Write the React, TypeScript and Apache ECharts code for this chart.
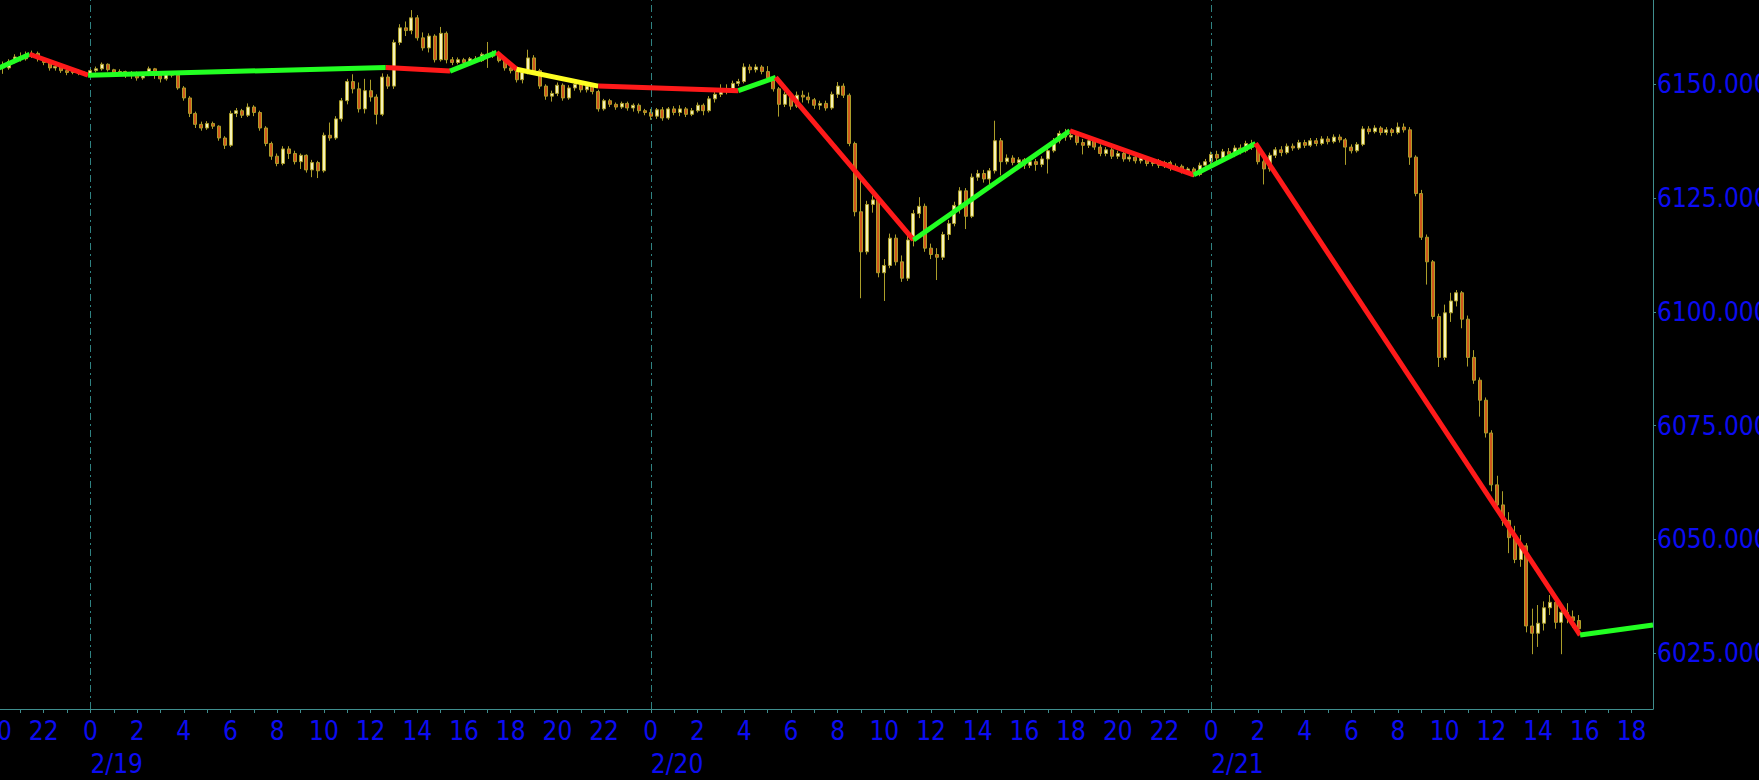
import React, { useEffect, useRef } from "react";
import * as echarts from "echarts";

// Time unit: hours from 2/19 00:00. Candles are 15-minute bars [open, close, low, high].
const feb18Start = -4; // 2/18 20:00
const candlesFeb18 = [
  [6153.0, 6154.0, 6152.5, 6154.5], [6154.0, 6153.6, 6152.3, 6155.0], [6153.6, 6155.0, 6153.2, 6155.5], [6155.0, 6156.0, 6154.6, 6156.6],
  [6156.0, 6155.6, 6155.0, 6157.0], [6155.6, 6156.4, 6155.2, 6157.2], [6156.4, 6156.8, 6155.8, 6157.4], [6156.8, 6155.6, 6155.0, 6157.2],
  [6155.6, 6154.8, 6154.2, 6156.0], [6154.8, 6153.6, 6153.0, 6155.2], [6153.6, 6153.9, 6153.0, 6154.4], [6153.9, 6153.0, 6152.5, 6154.2],
  [6153.0, 6152.6, 6152.0, 6153.4], [6152.6, 6153.0, 6152.2, 6153.4], [6153.0, 6152.4, 6152.0, 6153.3], [6152.4, 6152.2, 6151.8, 6152.8],
];

const feb19Start = 0;
const candlesFeb19 = [
  [6152.2, 6153.0, 6151.8, 6153.4], [6153.0, 6153.4, 6152.6, 6153.9], [6153.4, 6154.4, 6153.0, 6154.8], [6154.4, 6153.2, 6152.8, 6154.6],
  [6153.2, 6152.6, 6151.6, 6153.4], [6152.6, 6152.8, 6152.0, 6153.3], [6152.8, 6152.0, 6151.4, 6153.0], [6152.0, 6152.6, 6151.2, 6152.9],
  [6152.6, 6151.4, 6150.8, 6152.8], [6151.4, 6152.2, 6151.0, 6152.5], [6152.2, 6153.4, 6151.8, 6153.9], [6153.4, 6152.0, 6151.2, 6153.6],
  [6152.0, 6151.2, 6150.4, 6152.4], [6151.2, 6152.4, 6150.8, 6152.8], [6152.4, 6152.0, 6151.5, 6152.8], [6152.0, 6149.2, 6148.8, 6152.3],
  [6149.2, 6147.0, 6146.4, 6149.6], [6147.0, 6143.6, 6142.8, 6147.4], [6143.6, 6141.2, 6140.4, 6144.0], [6141.2, 6140.4, 6139.8, 6141.8],
  [6140.4, 6141.4, 6140.0, 6141.9], [6141.4, 6140.8, 6140.2, 6141.8], [6140.8, 6138.2, 6137.6, 6141.0], [6138.2, 6136.6, 6135.8, 6138.6],
  [6136.6, 6143.6, 6136.2, 6144.2], [6143.6, 6144.2, 6142.8, 6144.8], [6144.2, 6143.2, 6142.6, 6144.6], [6143.2, 6145.0, 6142.8, 6145.8],
  [6145.0, 6143.8, 6143.0, 6145.4], [6143.8, 6140.4, 6139.8, 6144.2], [6140.4, 6137.0, 6136.4, 6140.8], [6137.0, 6134.2, 6133.4, 6137.4],
  [6134.2, 6132.6, 6132.0, 6134.8], [6132.6, 6135.8, 6132.2, 6136.4], [6135.8, 6134.8, 6133.6, 6136.4], [6134.8, 6133.0, 6132.4, 6135.4],
  [6133.0, 6134.4, 6131.4, 6134.8], [6134.4, 6131.2, 6130.6, 6134.6], [6131.2, 6132.8, 6129.6, 6133.4], [6132.8, 6131.0, 6129.4, 6133.2],
  [6131.0, 6138.8, 6130.6, 6139.4], [6138.8, 6138.2, 6137.6, 6141.6], [6138.2, 6142.4, 6137.8, 6143.0], [6142.4, 6146.4, 6141.8, 6147.0],
  [6146.4, 6150.6, 6145.6, 6151.2], [6150.6, 6149.0, 6148.0, 6152.2], [6149.0, 6144.6, 6143.8, 6150.4], [6144.6, 6148.6, 6143.6, 6151.2],
  [6148.6, 6147.2, 6146.2, 6151.0], [6147.2, 6143.4, 6141.2, 6147.8], [6143.4, 6151.6, 6143.0, 6152.4], [6151.6, 6149.6, 6149.0, 6152.2],
  [6149.6, 6159.2, 6149.0, 6159.8], [6159.2, 6162.4, 6158.6, 6163.2], [6162.4, 6161.8, 6160.6, 6163.8], [6161.8, 6164.6, 6161.0, 6166.3],
  [6164.6, 6160.2, 6159.6, 6165.2], [6160.2, 6158.0, 6157.4, 6161.4], [6158.0, 6160.6, 6157.0, 6161.2], [6160.6, 6155.4, 6154.8, 6161.0],
  [6155.4, 6161.2, 6155.0, 6162.6], [6161.2, 6155.4, 6154.6, 6161.6], [6155.4, 6154.8, 6154.2, 6156.0], [6154.8, 6155.4, 6154.4, 6155.9],
  [6155.4, 6154.8, 6154.2, 6155.8], [6154.8, 6155.6, 6154.4, 6156.0], [6155.6, 6155.2, 6154.8, 6156.2], [6155.2, 6156.6, 6154.9, 6157.0],
  [6156.6, 6156.2, 6153.6, 6159.3], [6156.2, 6156.8, 6155.8, 6157.4], [6156.8, 6155.2, 6154.8, 6157.2], [6155.2, 6153.6, 6153.0, 6155.6],
  [6153.6, 6153.0, 6152.4, 6154.2], [6153.0, 6151.0, 6150.4, 6153.4], [6151.0, 6152.6, 6150.2, 6153.2], [6152.6, 6155.8, 6152.2, 6157.6],
  [6155.8, 6153.0, 6152.4, 6156.4], [6153.0, 6149.6, 6149.0, 6153.4], [6149.6, 6147.4, 6146.6, 6150.0], [6147.4, 6148.0, 6146.2, 6148.6],
  [6148.0, 6149.8, 6147.4, 6150.4], [6149.8, 6147.0, 6146.4, 6150.2], [6147.0, 6149.2, 6146.6, 6149.8], [6149.2, 6150.0, 6148.6, 6150.6],
  [6150.0, 6148.8, 6148.2, 6150.4], [6148.8, 6149.6, 6148.2, 6150.2], [6149.6, 6148.4, 6147.8, 6150.0], [6148.4, 6144.6, 6144.0, 6148.8],
  [6144.6, 6146.4, 6144.2, 6146.8], [6146.4, 6145.6, 6145.0, 6146.8], [6145.6, 6145.0, 6144.4, 6146.0], [6145.0, 6145.8, 6144.6, 6146.2],
  [6145.8, 6144.8, 6144.2, 6146.2], [6144.8, 6145.4, 6144.0, 6145.8], [6145.4, 6144.2, 6143.6, 6145.8], [6144.2, 6143.8, 6143.2, 6144.6],
];

const feb20Start = 24;
const candlesFeb20 = [
  [6143.8, 6143.0, 6142.2, 6144.6], [6143.0, 6144.4, 6142.4, 6144.8], [6144.4, 6142.6, 6142.0, 6145.0], [6142.6, 6144.6, 6142.2, 6145.0],
  [6144.6, 6143.8, 6143.2, 6145.2], [6143.8, 6144.6, 6143.0, 6145.4], [6144.6, 6143.4, 6142.8, 6145.0], [6143.4, 6144.2, 6143.0, 6144.8],
  [6144.2, 6145.4, 6143.8, 6146.0], [6145.4, 6144.2, 6143.2, 6145.8], [6144.2, 6146.8, 6143.8, 6147.4], [6146.8, 6147.8, 6146.0, 6148.4],
  [6147.8, 6149.0, 6147.2, 6150.0], [6149.0, 6148.6, 6147.8, 6150.0], [6148.6, 6150.2, 6148.2, 6150.8], [6150.2, 6150.6, 6149.6, 6151.2],
  [6150.6, 6153.8, 6150.2, 6154.6], [6153.8, 6153.2, 6152.4, 6154.4], [6153.2, 6153.8, 6152.6, 6154.4], [6153.8, 6152.8, 6152.2, 6154.2],
  [6152.8, 6151.4, 6150.6, 6154.0], [6151.4, 6149.0, 6148.4, 6151.8], [6149.0, 6145.6, 6142.9, 6149.4], [6145.6, 6147.8, 6145.0, 6148.4],
  [6147.8, 6145.2, 6144.4, 6148.2], [6145.2, 6147.6, 6144.8, 6148.4], [6147.6, 6147.2, 6146.0, 6148.6], [6147.2, 6146.6, 6145.8, 6148.2],
  [6146.6, 6145.4, 6144.6, 6147.0], [6145.4, 6145.8, 6144.4, 6146.4], [6145.8, 6144.8, 6144.2, 6146.4], [6144.8, 6147.8, 6144.4, 6148.4],
  [6147.8, 6149.6, 6147.0, 6150.5], [6149.6, 6147.6, 6147.0, 6150.2], [6147.6, 6137.0, 6136.4, 6148.0], [6137.0, 6122.0, 6121.0, 6137.4],
  [6122.0, 6113.2, 6103.0, 6129.0], [6113.2, 6123.6, 6112.6, 6124.4], [6123.6, 6124.6, 6121.8, 6125.6], [6124.6, 6108.6, 6107.6, 6125.0],
  [6108.6, 6110.2, 6102.4, 6111.6], [6110.2, 6116.2, 6109.6, 6117.2], [6116.2, 6111.0, 6110.2, 6117.0], [6111.0, 6107.4, 6106.6, 6112.4],
  [6107.4, 6115.8, 6106.8, 6116.8], [6115.8, 6121.6, 6114.4, 6122.4], [6121.6, 6123.2, 6120.6, 6125.2], [6123.2, 6114.0, 6113.2, 6123.8],
  [6114.0, 6112.6, 6111.6, 6115.0], [6112.6, 6112.0, 6107.0, 6114.0], [6112.0, 6117.0, 6111.4, 6117.6], [6117.0, 6119.4, 6115.8, 6120.2],
  [6119.4, 6123.4, 6118.8, 6124.2], [6123.4, 6126.6, 6121.6, 6127.4], [6126.6, 6121.0, 6118.2, 6127.2], [6121.0, 6129.6, 6120.6, 6130.4],
  [6129.6, 6130.4, 6128.8, 6131.2], [6130.4, 6129.2, 6128.4, 6131.2], [6129.2, 6131.0, 6128.0, 6131.6], [6131.0, 6137.6, 6130.4, 6142.0],
  [6137.6, 6133.0, 6130.0, 6138.2], [6133.0, 6133.8, 6132.4, 6134.6], [6133.8, 6132.8, 6132.2, 6134.4], [6132.8, 6133.4, 6132.0, 6134.0],
  [6133.4, 6132.2, 6131.4, 6133.8], [6132.2, 6133.0, 6131.6, 6133.6], [6133.0, 6132.4, 6131.0, 6133.6], [6132.4, 6133.6, 6131.8, 6134.2],
  [6133.6, 6135.4, 6130.4, 6136.0], [6135.4, 6137.6, 6135.0, 6138.2], [6137.6, 6139.2, 6137.0, 6139.8], [6139.2, 6138.4, 6137.6, 6140.2],
  [6138.4, 6138.8, 6137.8, 6139.6], [6138.8, 6137.2, 6136.6, 6139.4], [6137.2, 6136.6, 6134.6, 6138.0], [6136.6, 6137.6, 6136.0, 6138.4],
  [6137.6, 6136.2, 6135.6, 6138.0], [6136.2, 6134.8, 6134.2, 6136.8], [6134.8, 6135.6, 6134.2, 6136.2], [6135.6, 6134.2, 6133.6, 6136.0],
  [6134.2, 6134.8, 6133.6, 6135.4], [6134.8, 6133.6, 6133.0, 6135.2], [6133.6, 6134.0, 6133.0, 6134.6], [6134.0, 6133.2, 6132.6, 6134.6],
  [6133.2, 6133.8, 6132.6, 6134.2], [6133.8, 6132.6, 6132.0, 6134.2], [6132.6, 6133.2, 6132.0, 6133.8], [6133.2, 6132.2, 6131.6, 6133.6],
  [6132.2, 6132.8, 6131.6, 6133.2], [6132.8, 6131.6, 6131.0, 6133.2], [6131.6, 6132.0, 6131.0, 6132.6], [6132.0, 6131.0, 6130.4, 6132.4],
  [6131.0, 6131.4, 6130.2, 6131.8], [6131.4, 6130.2, 6129.6, 6131.8], [6130.2, 6132.2, 6129.8, 6132.8], [6132.2, 6133.0, 6131.6, 6133.6],
];

const feb21Start = 48;
const candlesFeb21 = [
  [6133.0, 6134.6, 6132.4, 6135.2], [6134.6, 6133.8, 6133.0, 6135.4], [6133.8, 6135.2, 6133.2, 6135.8], [6135.2, 6134.6, 6133.8, 6136.0],
  [6134.6, 6136.0, 6134.0, 6136.6], [6136.0, 6135.4, 6134.6, 6136.8], [6135.4, 6137.0, 6135.0, 6137.6], [6137.0, 6136.2, 6135.6, 6137.8],
  [6136.2, 6133.0, 6132.4, 6136.8], [6133.0, 6131.4, 6128.0, 6134.0], [6131.4, 6134.4, 6130.8, 6135.0], [6134.4, 6135.6, 6133.8, 6136.2],
  [6135.6, 6135.0, 6134.2, 6136.4], [6135.0, 6136.4, 6134.6, 6137.0], [6136.4, 6136.0, 6135.4, 6137.0], [6136.0, 6137.2, 6135.6, 6137.8],
  [6137.2, 6136.6, 6136.0, 6137.8], [6136.6, 6137.6, 6136.2, 6138.2], [6137.6, 6137.0, 6136.4, 6138.2], [6137.0, 6138.0, 6136.6, 6138.6],
  [6138.0, 6137.4, 6136.8, 6138.6], [6137.4, 6138.4, 6137.0, 6139.0], [6138.4, 6137.8, 6137.2, 6139.0], [6137.8, 6136.2, 6132.3, 6138.2],
  [6136.2, 6135.4, 6134.8, 6136.8], [6135.4, 6136.8, 6135.0, 6137.3], [6136.8, 6140.2, 6136.4, 6140.8], [6140.2, 6139.6, 6139.0, 6140.8],
  [6139.6, 6140.4, 6139.2, 6141.0], [6140.4, 6139.4, 6138.8, 6140.8], [6139.4, 6140.0, 6138.8, 6140.6], [6140.0, 6139.4, 6138.6, 6140.4],
  [6139.4, 6140.6, 6139.0, 6141.6], [6140.6, 6140.0, 6139.4, 6141.4], [6140.0, 6134.0, 6132.3, 6140.6], [6134.0, 6126.0, 6125.4, 6134.4],
  [6126.0, 6116.4, 6115.8, 6126.8], [6116.4, 6111.0, 6106.0, 6117.0], [6111.0, 6099.0, 6098.4, 6111.4], [6099.0, 6090.0, 6087.9, 6099.6],
  [6090.0, 6099.8, 6089.4, 6101.6], [6099.8, 6102.4, 6097.8, 6104.2], [6102.4, 6104.2, 6101.2, 6104.8], [6104.2, 6098.4, 6096.4, 6104.6],
  [6098.4, 6090.0, 6088.0, 6099.2], [6090.0, 6085.0, 6084.2, 6091.6], [6085.0, 6080.6, 6077.0, 6085.6], [6080.6, 6073.4, 6072.4, 6081.2],
  [6073.4, 6062.0, 6060.6, 6074.0], [6062.0, 6057.6, 6055.8, 6064.0], [6057.6, 6054.2, 6053.0, 6060.6], [6054.2, 6050.4, 6047.0, 6056.0],
  [6050.4, 6045.6, 6044.8, 6053.0], [6045.6, 6048.6, 6044.0, 6051.0], [6048.6, 6031.0, 6029.6, 6049.2], [6031.0, 6029.4, 6024.8, 6034.8],
  [6029.4, 6031.6, 6026.4, 6035.6], [6031.6, 6035.0, 6030.0, 6036.4], [6035.0, 6036.2, 6033.4, 6037.8], [6036.2, 6031.8, 6030.4, 6037.0],
  [6031.8, 6034.0, 6024.8, 6035.6], [6034.0, 6033.0, 6031.6, 6036.0], [6033.0, 6032.2, 6030.6, 6034.4], [6032.2, 6030.4, 6029.4, 6033.4],
];

// Zigzag overlay: vertex times (hours), prices, and colour of each segment that starts at a vertex.
const zigzagTimes = [-4.0, -2.6, -0.1, 12.65, 15.4, 17.4, 18.25, 21.75, 27.75, 29.35, 35.25, 41.95, 47.25, 49.9, 63.8, 66.92];
const zigzagPrices = [6153.4, 6156.6, 6152.0, 6153.7, 6152.9, 6157.0, 6153.3, 6149.6, 6148.6, 6151.5, 6115.8, 6139.8, 6130.1, 6137.0, 6029.0, 6031.2];
const zigzagColors = ["#22ff22", "#ff1a1a", "#22ff22", "#ff1a1a", "#22ff22", "#ff1a1a", "#ffff22", "#ff1a1a", "#22ff22", "#ff1a1a", "#22ff22", "#ff1a1a", "#22ff22", "#ff1a1a", "#22ff22"];

// Axis ticks / labels
const xMin = -4;
const xMax = 66.92;
const hourLabelValues = [-4, -2, 0, 2, 4, 6, 8, 10, 12, 14, 16, 18, 20, 22, 24, 26, 28, 30, 32, 34, 36, 38, 40, 42, 44, 46, 48, 50, 52, 54, 56, 58, 60, 62, 64, 66];
const dayStarts = [0, 24, 48];
const dayLabels = ["2/19", "2/20", "2/21"];
const priceTicks = [6025, 6050, 6075, 6100, 6125, 6150];
const yMin = 6012.76;
const yMax = 6168.52;

const AXIS_COLOR = "#3f8e8e";
const LABEL_COLOR = "#0c0cf2";
const FONT = "'DejaVu Sans Condensed', 'Liberation Sans', sans-serif";

function toSeries(start: number, rows: number[][]) {
  return rows.map((r, i) => [start + i * 0.25, r[0], r[1], r[2], r[3]]);
}

export default function App() {
  const ref = useRef<HTMLDivElement>(null);
  useEffect(() => {
    if (!ref.current) return;
    const chart = echarts.init(ref.current, undefined, { renderer: "svg" });
    const candleData = [
      ...toSeries(feb18Start, candlesFeb18),
      ...toSeries(feb19Start, candlesFeb19),
      ...toSeries(feb20Start, candlesFeb20),
      ...toSeries(feb21Start, candlesFeb21),
    ];
    const hourTicks: number[] = [];
    for (let h = -4; h <= 66; h++) hourTicks.push(h);

    const zigSeries = zigzagColors.map((c, i) => ({
      type: "line",
      data: [
        [zigzagTimes[i], zigzagPrices[i]],
        [zigzagTimes[i + 1], zigzagPrices[i + 1]],
      ],
      showSymbol: false,
      symbol: "none",
      lineStyle: { color: c, width: 5 },
      z: 5,
      silent: true,
      clip: true,
    }));

    chart.setOption({
      animation: false,
      backgroundColor: "#000000",
      grid: { left: -3, right: 106, top: 0, bottom: 71, containLabel: false, outerBoundsMode: "none" },
      xAxis: [
        {
          type: "value",
          min: xMin,
          max: xMax,
          position: "bottom",
          axisLine: { show: true, onZero: false, lineStyle: { color: AXIS_COLOR, width: 1 } },
          axisTick: { show: true, customValues: hourTicks, length: 4, lineStyle: { color: AXIS_COLOR } },
          axisLabel: {
            customValues: hourLabelValues,
            formatter: (v: number) => String(((Math.round(v) % 24) + 24) % 24),
            color: LABEL_COLOR,
            fontFamily: FONT,
            fontSize: 26,
            margin: 9,
          },
          splitLine: { show: false },
        },
        {
          type: "value",
          min: xMin,
          max: xMax,
          position: "bottom",
          offset: 0,
          axisLine: { show: false, onZero: false },
          axisTick: { show: false },
          axisLabel: {
            customValues: dayStarts,
            formatter: (v: number) => dayLabels[dayStarts.indexOf(Math.round(v))] ?? "",
            color: LABEL_COLOR,
            fontFamily: FONT,
            fontSize: 26,
            margin: 42,
            align: "left",
          },
          splitLine: { show: false },
        },
      ],
      yAxis: {
        type: "value",
        min: yMin,
        max: yMax,
        position: "right",
        axisLine: { show: true, onZero: false, lineStyle: { color: AXIS_COLOR, width: 1 } },
        axisTick: { show: true, customValues: priceTicks, length: 3, lineStyle: { color: AXIS_COLOR } },
        axisLabel: {
          customValues: priceTicks,
          formatter: (v: number) => v.toFixed(3),
          color: LABEL_COLOR,
          fontFamily: FONT,
          fontSize: 26,
          margin: 4,
        },
        splitLine: { show: false },
      },
      series: [
        {
          type: "candlestick",
          data: candleData,
          encode: { x: 0, y: [1, 2, 3, 4] },
          barWidth: 3.5,
          itemStyle: {
            color: "#f6f2b8",
            color0: "#d0581c",
            borderColor: "#ac9e2a",
            borderColor0: "#ac9e2a",
            borderWidth: 1,
          },
          z: 3,
          markLine: {
            silent: true,
            symbol: ["none", "none"],
            label: { show: false },
            lineStyle: { color: "#2f8282", type: [7, 4, 2, 4], width: 1 },
            data: dayStarts.map((d) => ({ xAxis: d })),
          },
        },
        ...zigSeries,
      ],
    });
    return () => chart.dispose();
  }, []);
  return (
    <div
      ref={ref}
      style={{ position: "fixed", left: 0, top: 0, width: 1759, height: 780 }}
    />
  );
}
